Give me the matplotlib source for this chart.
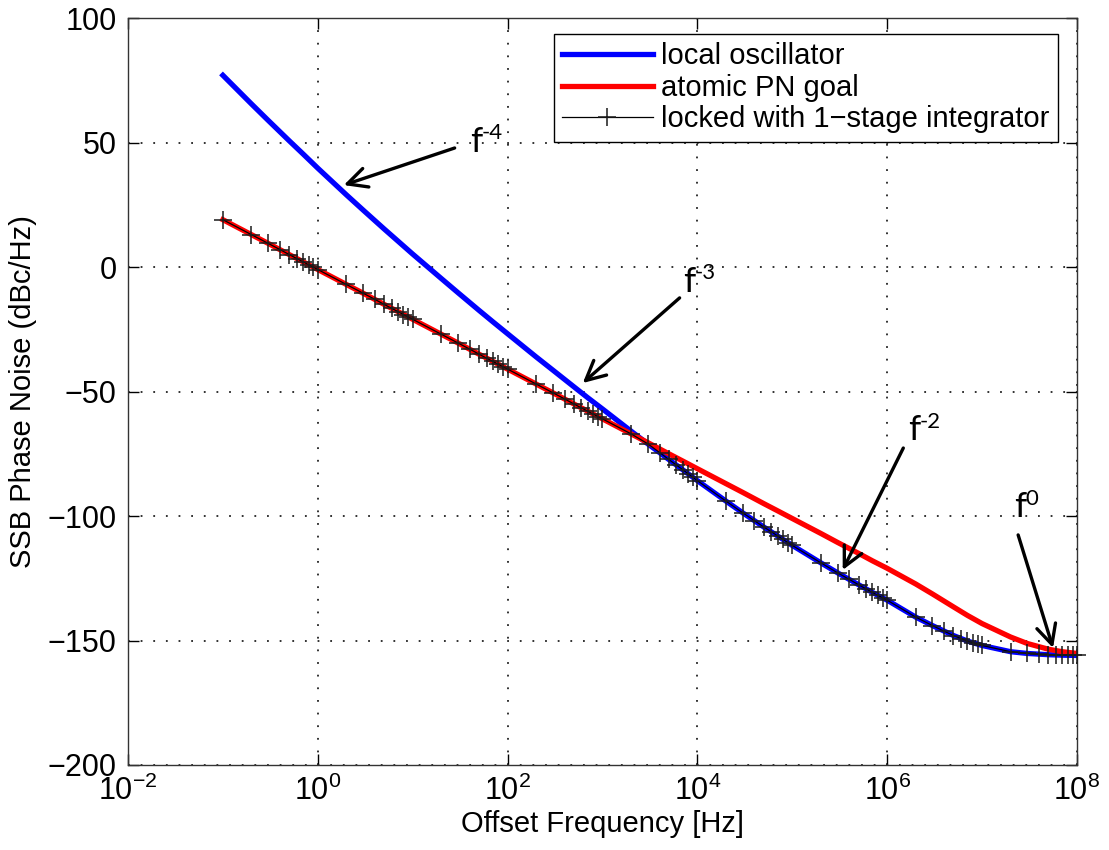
import numpy as np
import matplotlib.pyplot as plt

plt.rcParams['font.family'] = ['Liberation Sans', 'DejaVu Sans']
plt.rcParams['mathtext.fontset'] = 'custom'
plt.rcParams['mathtext.rm'] = 'Liberation Sans'

# offset frequencies (Hz) for the two model curves
freq = [0.1, 0.2, 0.3, 0.5, 0.7,
        1, 2, 3, 5, 7,
        10, 20, 30, 50, 70,
        100, 200, 300, 500, 700,
        1e3, 2e3, 3e3, 5e3, 7e3,
        1e4, 2e4, 3e4, 5e4, 7e4,
        1e5, 2e5, 3e5, 5e5, 7e5,
        1e6, 2e6, 3e6, 5e6, 7e6,
        1e7, 2e7, 3e7, 5e7, 7e7,
        1e8]

# free-running local oscillator (dBc/Hz)
lo_pn = [77.0, 65.5, 58.9, 50.7, 45.4,
         39.7, 29.0, 22.9, 15.3, 10.4,
         5.2, -4.6, -10.3, -17.4, -22.0,
         -26.8, -36.1, -41.4, -48.1, -52.5,
         -57.0, -65.9, -71.0, -77.3, -81.4,
         -85.8, -94.0, -98.7, -104.4, -108.0,
         -111.8, -118.8, -122.8, -127.6, -130.7,
         -133.8, -140.6, -144.0, -148.0, -150.2,
         -152.0, -154.5, -155.2, -155.7, -155.9,
         -156.0]

# atomic reference phase-noise goal (dBc/Hz)
goal_pn = [19.0, 13.0, 9.5, 5.0, 2.1,
           -1.0, -7.0, -10.5, -15.0, -17.9,
           -21.0, -27.0, -30.5, -35.0, -37.9,
           -41.0, -47.0, -50.5, -55.0, -57.9,
           -61.0, -67.0, -70.5, -75.0, -77.9,
           -81.0, -87.0, -90.5, -95.0, -97.9,
           -101.0, -107.0, -110.6, -115.0, -118.0,
           -121.0, -127.3, -131.3, -136.5, -139.9,
           -143.2, -148.6, -151.2, -153.5, -154.5,
           -155.2]

# locked oscillator, sampled at 1..9 x 10^n Hz
freq_locked = [k * 10.0 ** n for n in range(-1, 8) for k in range(1, 10)] + [1e8]
locked_pn = [
    19.0, 13.0, 9.5, 7.0, 5.0, 3.4, 2.1, 0.9, -0.1,
    -1.0, -7.0, -10.5, -13.0, -15.0, -16.6, -17.9, -19.1, -20.1,
    -21.0, -27.0, -30.5, -33.0, -35.0, -36.6, -37.9, -39.1, -40.1,
    -41.0, -47.0, -50.5, -53.0, -55.0, -56.6, -57.9, -59.1, -60.1,
    -61.0, -67.0, -71.0, -74.5, -77.3, -79.5, -81.4, -83.0, -84.5,
    -85.8, -94.0, -98.7, -101.9, -104.4, -106.3, -108.0, -109.4, -110.7,
    -111.8, -118.8, -122.8, -125.5, -127.6, -129.3, -130.7, -131.9, -132.9,
    -133.8, -140.6, -144.0, -146.3, -148.0, -149.2, -150.2, -150.9, -151.5,
    -152.0, -154.5, -155.2, -155.5, -155.7, -155.8, -155.9, -156.0, -156.0,
    -156.0,
]

# slope annotations: exponent, text anchor, arrow tail, arrow head
slope_exp = ['-4', '-3', '-2', '0']
label_pos = [(40.7, 46.2), (7.1e3, -10), (1.66e6, -69.5), (2.2e7, -100.4)]
arrow_tail = [(27.7, 47.8), (6.5e3, -12.4), (1.48e6, -72.7), (2.4e7, -107.6)]
arrow_head = [(1.88, 32.9), (620, -46.6), (3.4e5, -121.7), (5.6e7, -153)]

fig = plt.figure(figsize=(11.09, 8.5), dpi=100)
ax = fig.add_axes([0.1154, 0.1, 0.8557, 0.8788])

ax.semilogx(freq, lo_pn, color='#0000ff', lw=3.8, label='local oscillator', zorder=3)
ax.semilogx(freq, goal_pn, color='#ff0000', lw=3.8, label='atomic PN goal', zorder=3)
ax.semilogx(freq_locked, locked_pn, color='black', lw=0.9, marker='+', ms=13,
            mew=1.1, mec='#1a1a1a', label='locked with 1\u2212stage integrator',
            zorder=4, clip_on=False)

ax.set_xlim(1e-2, 1e8)
ax.set_ylim(-200, 100)
ax.set_xticks([1e-2, 1e0, 1e2, 1e4, 1e6, 1e8])
ax.xaxis.set_minor_locator(plt.NullLocator())
ax.set_yticks(np.arange(-200, 101, 50))
ax.tick_params(axis='both', which='major', direction='in', length=8, width=1,
               top=True, right=True, labelsize=22, pad=8)

ax.grid(True, which='major', color='#222222', linestyle=(0, (1, 6)), lw=1.3)
for s in ax.spines.values():
    s.set_linewidth(1.0)
    s.set_color('#333333')

ax.set_xlabel('Offset Frequency [Hz]', fontsize=21, labelpad=2)
ax.set_ylabel('SSB Phase Noise (dBc/Hz)', fontsize=21, labelpad=8)

leg = ax.legend(loc='upper right', bbox_to_anchor=(0.98, 0.979), borderaxespad=0,
                fontsize=21, numpoints=1, handlelength=3.1, handletextpad=0.28,
                labelspacing=0.12, fancybox=False, framealpha=1, edgecolor='black',
                borderpad=0.3)
leg.get_frame().set_linewidth(1.0)

for ex, tp, tail, head in zip(slope_exp, label_pos, arrow_tail, arrow_head):
    ax.text(tp[0], tp[1], 'f', fontsize=25, family='Lato', ha='left',
            va='baseline', zorder=6)
    ax.annotate(ex, xy=tp, xytext=(8, 9), textcoords='offset points',
                fontsize=16, family='Lato', ha='left', va='baseline', zorder=6)
    ax.annotate('', xy=head, xytext=tail,
                arrowprops=dict(arrowstyle='->,head_length=0.7,head_width=0.35',
                                color='black', lw=2.4, mutation_scale=20,
                                shrinkA=0, shrinkB=0), zorder=6)

fig.savefig('out.png', dpi=100)
